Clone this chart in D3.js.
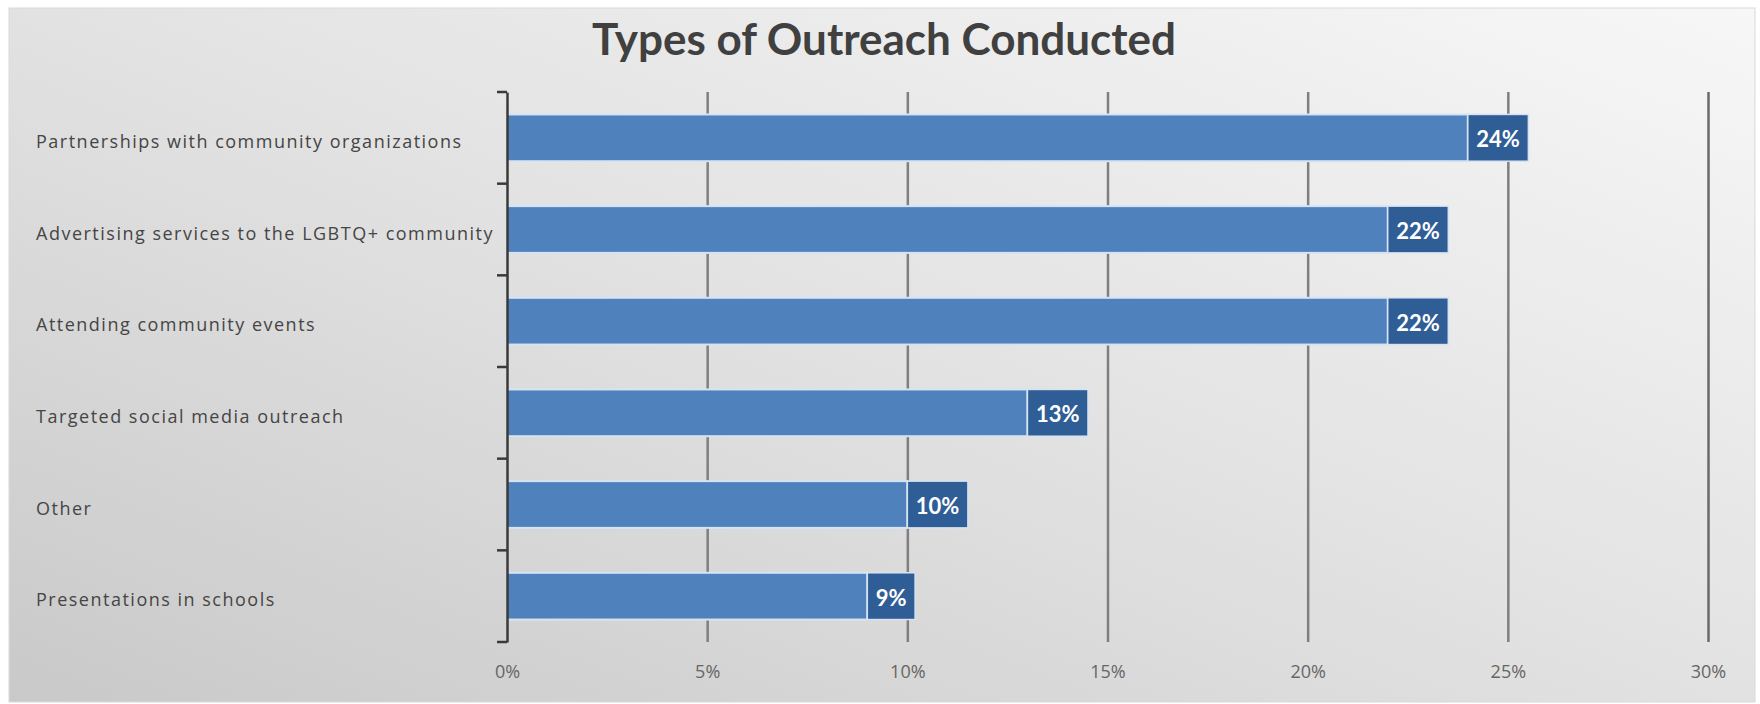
<!DOCTYPE html>
<html>
<head>
<meta charset="utf-8">
<script src="https://cdn.jsdelivr.net/npm/d3@7"></script>
<style>
  html, body { margin: 0; padding: 0; background: #ffffff; }
  svg { display: block; }
</style>
</head>
<body>
<svg id="chart" width="1760" height="704"></svg>
<script>
// Outreach categories, top to bottom, and their share of responses
const categories = [
  "Partnerships with community organizations",
  "Advertising services to the LGBTQ+ community",
  "Attending community events",
  "Targeted social media outreach",
  "Other",
  "Presentations in schools"
];
const shares = [0.24, 0.22, 0.22, 0.13, 0.10, 0.09];
const xTickValues = [0, 0.05, 0.10, 0.15, 0.20, 0.25, 0.30];
const chartTitle = "Types of Outreach Conducted";

const rows = categories.map((c, i) => ({ category: c, value: shares[i] }));

const svg = d3.select("#chart");
const W = 1760, H = 704;

// Panel background: soft diagonal grey gradient
const defs = svg.append("defs");
const grad = defs.append("linearGradient")
  .attr("id", "panelFill")
  .attr("x1", "1").attr("y1", "0")
  .attr("x2", "0").attr("y2", "1");
grad.append("stop").attr("offset", "0").attr("stop-color", "#f7f7f7");
grad.append("stop").attr("offset", "0.5").attr("stop-color", "#e2e2e2");
grad.append("stop").attr("offset", "1").attr("stop-color", "#c9c9c9");

svg.append("rect")
  .attr("x", 9).attr("y", 8)
  .attr("width", W - 14).attr("height", H - 10)
  .attr("fill", "url(#panelFill)")
  .attr("stroke", "#d9d9d9").attr("stroke-width", 1);

// Plot geometry
const plot = { left: 507, right: 1708, top: 92, bottom: 642 };

const x = d3.scaleLinear().domain([0, 0.30]).range([plot.left, plot.right]);
const y = d3.scaleBand()
  .domain(categories)
  .range([plot.top, plot.bottom])
  .paddingInner(0.49)
  .paddingOuter(0.245);

// Title
svg.append("text")
  .attr("x", 884).attr("y", 55)
  .attr("text-anchor", "middle")
  .attr("font-family", "Lato, 'Open Sans', sans-serif")
  .attr("font-weight", 700)
  .attr("font-size", 44)
  .attr("fill", "#404040")
  .text(chartTitle);

// Vertical gridlines + bottom tick labels via the x axis
const xAxis = d3.axisBottom(x)
  .tickValues(xTickValues)
  .tickSize(-(plot.bottom - plot.top))
  .tickPadding(23)
  .tickFormat(d3.format(".0%"));

const gx = svg.append("g")
  .attr("transform", `translate(0,${plot.bottom})`)
  .call(xAxis);
gx.select(".domain").remove();
gx.selectAll(".tick line")
  .attr("stroke", d => d === 0 ? "none" : (d === 0.30 ? "#6a6a6a" : "#7f7f7f"))
  .attr("stroke-width", 2.5);
gx.selectAll(".tick text")
  .attr("font-family", "'Open Sans', sans-serif")
  .attr("font-size", 18)
  .attr("fill", "#666666");

// Bars
const bars = svg.append("g");
bars.selectAll("rect.bar")
  .data(rows)
  .join("rect")
  .attr("class", "bar")
  .attr("x", x(0))
  .attr("y", d => y(d.category))
  .attr("width", d => x(d.value) - x(0))
  .attr("height", y.bandwidth())
  .attr("fill", "#4f81bd")
  .attr("stroke", "#d6e3f3")
  .attr("stroke-width", 2);

// Value labels in filled boxes sitting just past each bar end
const fmt = d3.format(".0%");
const labelGroups = svg.append("g").selectAll("g.value")
  .data(rows)
  .join("g")
  .attr("class", "value");

labelGroups.append("rect").attr("class", "box");
labelGroups.append("text")
  .attr("class", "vtext")
  .attr("font-family", "Lato, 'Open Sans', sans-serif")
  .attr("font-weight", 700)
  .attr("font-size", 22)
  .attr("fill", "#ffffff")
  .attr("text-anchor", "middle")
  .attr("dominant-baseline", "central")
  .text(d => fmt(d.value));

labelGroups.each(function(d) {
  const g = d3.select(this);
  const t = g.select("text.vtext");
  const tw = t.node().getComputedTextLength();
  const pad = 8.5;
  const bx = x(d.value);
  const bw = tw + pad * 2;
  g.select("rect.box")
    .attr("x", bx)
    .attr("y", y(d.category))
    .attr("width", bw)
    .attr("height", y.bandwidth())
    .attr("fill", "#2f5d96")
    .attr("stroke", "#d6e3f3")
    .attr("stroke-width", 1.5);
  t.attr("x", bx + bw / 2)
   .attr("y", y(d.category) + y.bandwidth() / 2 + 1);
});

// Category axis on the left
const yAxis = d3.axisLeft(y).tickSize(0).tickFormat(() => "");
const gy = svg.append("g")
  .attr("transform", `translate(${plot.left},0)`)
  .call(yAxis);
gy.select(".domain")
  .attr("stroke", "#3a3a3a")
  .attr("stroke-width", 2.5);

// Tick marks at category boundaries
const boundaries = d3.range(categories.length + 1)
  .map(i => plot.top + i * y.step());
gy.selectAll("line.bound")
  .data(boundaries)
  .join("line")
  .attr("class", "bound")
  .attr("x1", -10).attr("x2", 0)
  .attr("y1", d => d).attr("y2", d => d)
  .attr("stroke", "#3a3a3a")
  .attr("stroke-width", 2.5);

// Category labels, left aligned near the panel edge
svg.append("g").selectAll("text.cat")
  .data(categories)
  .join("text")
  .attr("class", "cat")
  .attr("x", 36)
  .attr("y", d => y(d) + y.bandwidth() / 2 + 3)
  .attr("dominant-baseline", "central")
  .attr("font-family", "'Open Sans', sans-serif")
  .attr("font-size", 18)
  .attr("letter-spacing", 1.5)
  .attr("fill", "#454545")
  .text(d => d);
</script>
</body>
</html>
